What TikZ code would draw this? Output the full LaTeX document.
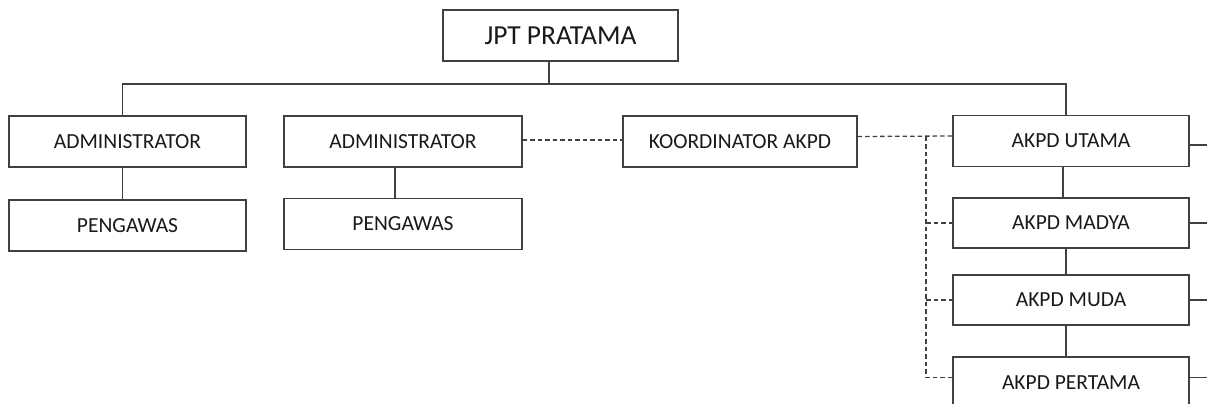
\documentclass[tikz,border=0pt]{standalone}
\usepackage{fontspec}
\setmainfont{Carlito}
\usetikzlibrary{calc}
\begin{document}
\begin{tikzpicture}[x=1pt,y=-1pt,
  box/.style={draw=black!75, line width=1.3pt, minimum width=236pt, minimum height=51pt,
    inner sep=0pt, font=\fontsize{21.5}{25}\selectfont, text=black!90},
  link/.style={draw=black!75, line width=1.3pt},
  dlink/.style={draw=black!75, line width=1.3pt, dash pattern=on 4.5pt off 3pt}]
\useasboundingbox (0,0) rectangle (1207,404);
% nodes
\node[box, minimum width=235pt, font=\fontsize{27.5}{32}\selectfont] (jpt) at (560.5,35.5) {JPT PRATAMA};
\node[box, minimum width=237pt] (admin1) at (127.5,141.5) {ADMINISTRATOR};
\node[box, minimum width=237pt] (peng1) at (127.5,225.5) {PENGAWAS};
\node[box, minimum width=238pt] (admin2) at (403,141.5) {ADMINISTRATOR};
\node[box, minimum width=238pt] (peng2) at (403,224) {PENGAWAS};
\node[box, minimum width=234pt] (koord) at (740,141.5) {KOORDINATOR AKPD};
\node[box] (utama) at (1071,141) {AKPD UTAMA};
\node[box, minimum height=50pt] (madya) at (1071,223) {AKPD MADYA};
\node[box, minimum height=50pt] (muda) at (1071,300) {AKPD MUDA};
\node[box] (pertama) at (1071,382.5) {AKPD PERTAMA};
% helper coordinates
\coordinate (bus) at (0,84);
\coordinate (vd) at (926,0);
\coordinate (kd) at ([yshift=5pt]koord.east);
\coordinate (ud) at ([yshift=5pt]utama.west);
\coordinate (pw) at ([yshift=5pt]pertama.west);
% solid tree
\draw[link] ([xshift=-11.5pt]jpt.south) -- ([xshift=-11.5pt]jpt.south |- bus);
\draw[link] ([xshift=-5pt]admin1.north) -- ([xshift=-5pt]admin1.north |- bus)
  -- ([xshift=-5pt]utama.north |- bus) -- ([xshift=-5pt]utama.north);
\draw[link] ([xshift=-5pt]admin1.south) -- ([xshift=-5pt]peng1.north);
\draw[link] ([xshift=-8pt]admin2.south) -- ([xshift=-8pt]peng2.north);
\draw[link] ([xshift=-8pt]utama.south) -- ([xshift=-8pt]madya.north);
\draw[link] ([xshift=-5pt]madya.south) -- ([xshift=-5pt]muda.north);
\draw[link] ([xshift=-5pt]muda.south) -- ([xshift=-5pt]pertama.north);
% right stubs
\draw[link] ([yshift=-4pt]utama.east) -- ++(20,0);
\draw[link] (madya.east) -- ++(20,0);
\draw[link] (muda.east) -- ++(20,0);
\draw[link] ([yshift=5pt]pertama.east) -- ++(20,0);
% dashed
\draw[dlink] ([yshift=1.5pt]admin2.east) -- ([yshift=1.5pt]koord.west);
\draw[dlink] (kd) -- (ud);
\draw[dlink] (vd |- kd) |- (pw);
\draw[dlink] (vd |- madya.west) -- (madya.west);
\draw[dlink] (vd |- muda.west) -- (muda.west);
\end{tikzpicture}
\end{document}
